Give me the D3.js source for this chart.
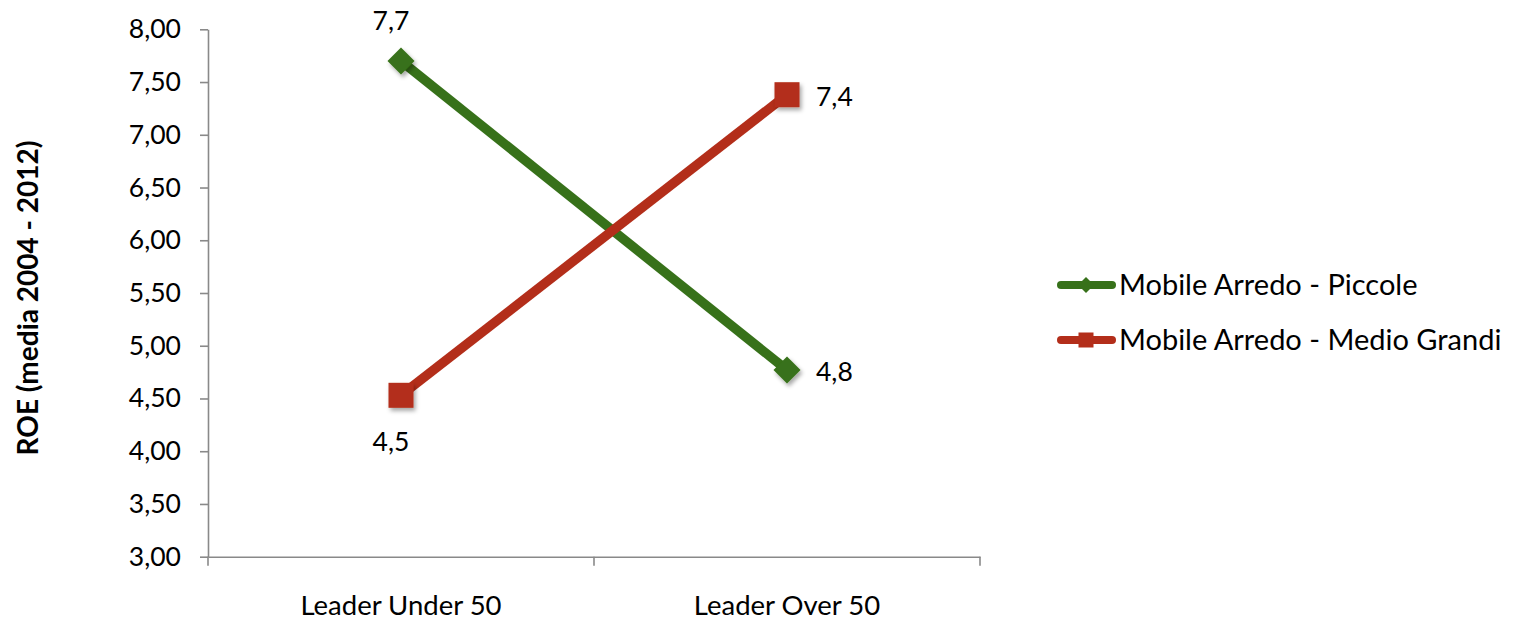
<!DOCTYPE html>
<html>
<head>
<meta charset="utf-8">
<script src="https://cdn.jsdelivr.net/npm/d3@7"></script>
<style>
  html, body { margin: 0; padding: 0; background: #fff; }
  svg { display: block; font-family: Lato, "Open Sans", sans-serif; }
</style>
</head>
<body>
<svg id="chart" width="1520" height="622"></svg>
<script>
// Categories and series (ROE, mean 2004-2012)
const categories = ["Leader Under 50", "Leader Over 50"];
const seriesNames = ["Mobile Arredo - Piccole", "Mobile Arredo - Medio Grandi"];
const piccoleValues = [7.70, 4.77];
const medioGrandiValues = [4.53, 7.38];
const yTicks = [3.0, 3.5, 4.0, 4.5, 5.0, 5.5, 6.0, 6.5, 7.0, 7.5, 8.0];
const yTitle = "ROE (media 2004 - 2012)";

const series = [
  { name: seriesNames[0], values: piccoleValues, color: "#37711a", marker: "diamond", labelPos: ["above", "right"] },
  { name: seriesNames[1], values: medioGrandiValues, color: "#b32e1a", marker: "square", labelPos: ["below", "right"] }
];

const it = d3.formatLocale({ decimal: ",", thousands: ".", grouping: [3], currency: ["€", ""] });
const fmt2 = it.format(".2f");
const fmt1 = it.format(".1f");

const svg = d3.select("#chart");

const defs = svg.append("defs");
const shadow = defs.append("filter").attr("id", "shadow")
  .attr("x", "-50%").attr("y", "-50%").attr("width", "200%").attr("height", "200%");
shadow.append("feDropShadow").attr("dx", 2).attr("dy", 3).attr("stdDeviation", 2.2)
  .attr("flood-color", "#000").attr("flood-opacity", 0.35);

const plot = { left: 208, right: 980, top: 29.3, bottom: 556.7 };

const x = d3.scaleBand().domain(categories).range([plot.left, plot.right]).padding(0);
const cx = c => x(c) + x.bandwidth() / 2;
const y = d3.scaleLinear().domain([3, 8]).range([plot.bottom, plot.top]);

const axisColor = "#898989";
const font = "Lato, 'Open Sans', sans-serif";

// Y axis
const yAxis = svg.append("g")
  .attr("transform", `translate(${plot.left},0)`)
  .call(d3.axisLeft(y).tickValues(yTicks).tickFormat(fmt2).tickSize(8).tickPadding(19).tickSizeOuter(0));
yAxis.select(".domain").attr("stroke", axisColor).attr("stroke-width", 1.6);
yAxis.selectAll(".tick line").attr("stroke", axisColor).attr("stroke-width", 1.6);
yAxis.selectAll(".tick text").attr("font-size", 26.5).attr("fill", "#000")
  .attr("font-family", font);

// X axis (labels centred in each band, ticks on band edges)
const xAxis = svg.append("g")
  .attr("transform", `translate(0,${plot.bottom})`)
  .call(d3.axisBottom(x).tickSize(0).tickSizeOuter(0));
xAxis.select(".domain").attr("stroke", axisColor).attr("stroke-width", 1.6);
xAxis.selectAll(".tick text").attr("font-size", 27.5).attr("fill", "#000")
  .attr("y", 58).attr("dy", "0")
  .attr("font-family", font);
const edges = categories.map(c => x(c)).concat([x(categories[categories.length - 1]) + x.bandwidth()]);
xAxis.selectAll(".edge").data(edges).join("line")
  .attr("class", "edge")
  .attr("x1", d => d).attr("x2", d => d)
  .attr("y1", 0).attr("y2", 9)
  .attr("stroke", axisColor).attr("stroke-width", 1.6);

// Y axis title
svg.append("text")
  .attr("transform", `translate(38,${(plot.top + plot.bottom) / 2 + 5}) rotate(-90)`)
  .attr("text-anchor", "middle")
  .attr("font-size", 28).attr("font-weight", "bold").attr("fill", "#000")
  .text(yTitle);

const line = d3.line().x(d => cx(d.cat)).y(d => y(d.v));

function drawMarker(g, type, px, py, size, color, useShadow) {
  let m;
  if (type === "diamond") {
    const h = size / 2;
    m = g.append("path")
      .attr("d", `M${px},${py - h}L${px + h},${py}L${px},${py + h}L${px - h},${py}Z`);
  } else {
    m = g.append("rect")
      .attr("x", px - size / 2).attr("y", py - size / 2)
      .attr("width", size).attr("height", size);
  }
  m.attr("fill", color);
  if (useShadow) m.attr("filter", "url(#shadow)");
  return m;
}

series.forEach(s => {
  const pts = s.values.map((v, i) => ({ cat: categories[i], v }));
  const g = svg.append("g");
  g.append("path").datum(pts)
    .attr("d", line)
    .attr("fill", "none")
    .attr("stroke", s.color)
    .attr("stroke-width", 9.5);
  pts.forEach(p => {
    drawMarker(g, s.marker, cx(p.cat), y(p.v), s.marker === "diamond" ? 27 : 25, s.color, true);
  });
  // data labels
  pts.forEach((p, i) => {
    const pos = s.labelPos[i];
    const px = cx(p.cat), py = y(p.v);
    const t = g.append("text")
      .attr("font-size", 26.5).attr("fill", "#000")
      .attr("dy", "0.35em")
      .text(fmt1(p.v));
    if (pos === "above") t.attr("x", px - 10).attr("y", py - 40).attr("text-anchor", "middle");
    else if (pos === "below") t.attr("x", px - 10).attr("y", py + 46).attr("text-anchor", "middle");
    else t.attr("x", px + 29).attr("y", py + 2).attr("text-anchor", "start");
  });
});

// Legend
const legend = svg.append("g");
series.forEach((s, i) => {
  const ly = 285 + i * 55;
  const g = legend.append("g");
  g.append("line")
    .attr("x1", 1061).attr("x2", 1112).attr("y1", ly).attr("y2", ly)
    .attr("stroke", s.color).attr("stroke-width", 8).attr("stroke-linecap", "round");
  drawMarker(g, s.marker, 1086, ly, s.marker === "diamond" ? 16 : 15, s.color, false);
  g.append("text")
    .attr("x", 1119).attr("y", ly).attr("dy", "0.35em")
    .attr("font-size", 29).attr("fill", "#000")
    .attr("font-family", font)
    .text(s.name);
});
</script>
</body>
</html>
